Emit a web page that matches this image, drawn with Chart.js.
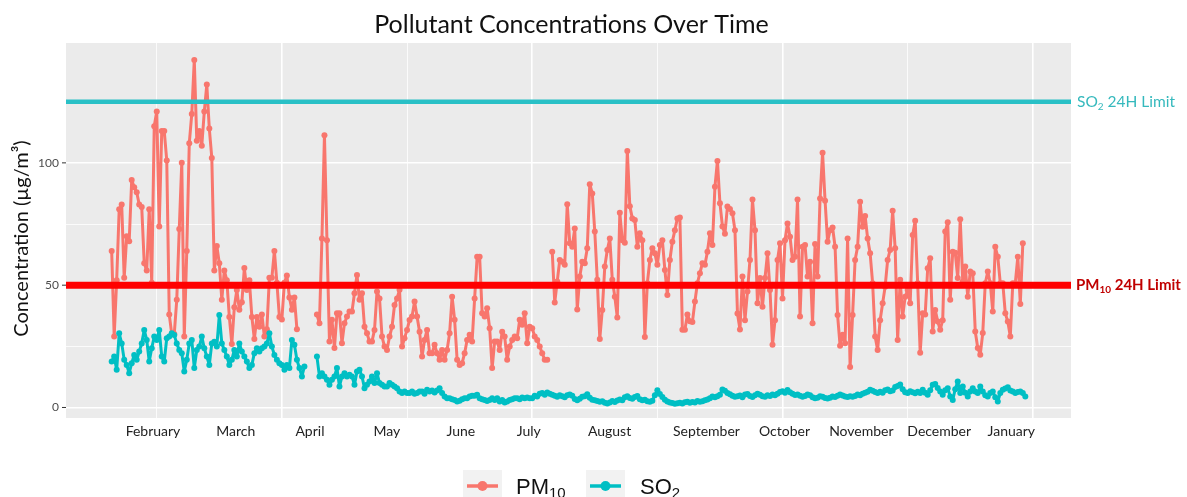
<!DOCTYPE html>
<html>
<head>
<meta charset="utf-8">
<script src="https://cdn.jsdelivr.net/npm/chart.js@4.4.1/dist/chart.umd.min.js"></script>
<style>
  html, body { margin: 0; padding: 0; background: #fff; }
  #wrap { width: 1187px; height: 497px; position: relative; }
</style>
</head>
<body>
<div id="wrap"><canvas id="chart" width="1187" height="497"></canvas></div>
<script>
// --- Data (day of year, first reading on day 32) ---
const firstDay = 32;

// PM10 daily values, null = missing day
const pm10Values = [
  64, 29, 52, 81, 83, 53, 70, 68, 93, 90,
  88, 83, 82, 59, 56, 81, 51, 115, 121, 74,
  113, 113, 101, 38, 30, 30, 44, 73, 100, 29,
  64, 108, 120, 142, 109, 113, 107, 121, 132, 114,
  102, 56, 66, 59, 44, 56, 52, 37, 26, 41,
  48, 40, 43, 57, 48, 52, 37, 28, 37, 33,
  38, 29, 32, 53, 53, 64, 51, 37, 36, 51,
  54, 45, 40, 45, 32,
  null, null, null, null, null, null, null,
  38, 34.4, 69.1, 111.3, 68.4, 27, 35.9, 24.3, 38.5, 38.5, 26.3,
  34.4, 37.2, 39.2, 39.2, 46.7, 54.2, 44, 46.7, 33, 30.3,
  27, 27, 31.7, 47.4, 44.6, 29, 24.9, 23.5, 29, 33,
  41.9, 44.6, 48.1, 24.9, 28.3, 31.7, 35.8, 37.2, 43.3, 37.2,
  31, 20.8, 27.6, 31.7, 22.2, 22.2, 25.6, 22.2, 19.5,
  23.5, 19.5, 23.5, 30.3, 45.3, 35.9, 19.5, 17.4, 18.1,
  22.2, 27.6, 29.7, 27, 44.6, 61.6, 61.6, 38.5, 37.2, 40.6,
  32.4, 16.1, 27, 27, 23.5, 31, 29, 19.5, 24.9,
  27.6, 29, 28.3, 35.9, 33.8, 38.5, 26.3, 33, 32.4,
  29, 27.6, 24.9, 22.2, 19.5, 19.5,
  null,
  63.7, 42.9, 51.5, 60.3, 59.6, 58.3, 83.1, 67.1, 65.7, 73.2,
  40.1, 53.5, 59.6, 59, 65.1, 91.3, 87.5, 71.9, 52.2, 28,
  39.9, 57.6, 64.4, 69.1, 52.2, 45.3, 36.8, 79.6, 68.4, 67.3,
  104.9, 82.3, 77.3, 76.6, 65.7, 71.2, 68.4, 28.8, 50.8, 60.3,
  65.1, 63, 58.3, 66.4, 68.4, 56.2, 46, 60.3, 67.8, 72.5,
  77.3, 77.7, 31.8, 31.8, 38, 35.3, 34.9, 43.3, 50.8, 54.9,
  59, 58.3, 63.7, 71.2, 66.4, 90.2, 100.8, 83.5, 74, 71,
  82.2, 81.1, 79.4, 72.5, 38.4, 31.9, 53.5, 35.7, 47.4, 60.3,
  85, 72.5, 42.6, 52.9, 41.2, 52.9, 63, 48, 25.6, 35.7,
  60.3, 67.1, 44.6,
  68.4, 75.2, 69.8, 60.3, 61.6, 85, 37.2, 65.7, 66.4,
  53.5, 59.6, 34.4, 66.8, 53.5, 85.4, 104.1, 84.5, 67.8, 72.5,
  73.6, 65.7, 37.8, 25.2, 29.7, 26.3, 69.1, 16.5, 37.8, 60.3,
  65.7, 84.1, 73.9, 78.3, 69.1, 63, 50.8, 29, 23.5,
  35.7, 42.6, 49.4, 60.3, 64.4, 80.4, 65.1, 27.6, 52.2, 37.2,
  45.3, 48, 42.6, 70.5, 76.3, 50.8, 22.4, 38.5, 38,
  56.9, 61, 31.1, 39.9, 35.2, 31.8, 35.7, 71.9, 75.7, 44,
  63.7, 63.3, 52.9, 76.9, 51.5, 57.6, 45.3, 55.6, 54.9, 31.1,
  24.3, 21.6, 30.4, 50.8, 55.6, 50.8, 39.2, 65.7, 61.6, 50.8,
  50.8, 38.5, 35.1, 29, 50.8, 50.8, 61.6, 42.3, 67.1
];

// SO2 daily values, null = missing day
const so2Values = [
  18.8, 20.8, 15.4, 30.3, 26.2, 19.5, 17.4, 14, 18.1, 21.5,
  19.5, 22.9, 26.2, 31.7, 27.6, 18.8, 24.2, 29, 27.6, 31.7,
  20.8, 18.8, 28.3, 29, 30.3, 29.6, 26.2, 23.5, 22.2, 14.7,
  19.5, 26.2, 27.6, 16.1, 23.5, 24.9, 29, 24.2, 20.8, 17.4,
  26.2, 26.9, 24.9, 37.8, 26.2, 23.5, 20.8, 17.4, 19.5, 23.5,
  20.8, 26.2, 22.9, 20.8, 18.8, 16.1, 17.4, 22.2, 24.2, 22.9,
  24.2, 24.9, 26.2, 30.3, 24.9, 21.5, 19.5, 18.1, 17.4, 15.4,
  17.4, 16.1, 27.6, 25.6, 19.5, 16.1, 12.7, 16.8,
  null, null, null, null,
  20.8, 12.7, 14, 12.7, 11.3, 9.3, 11.3, 12.7, 16.1, 8.6,
  12.7, 14, 12.7, 13.4, 12.7, 9.3, 14.7, 15.4, 12.7, 7.9,
  9.3, 10.6, 12.7, 10, 14, 10, 9.3, 8.6, 8.6, 10,
  9.3, 8.6, 7.9, 6.5, 5.9, 6.5, 5.9, 5.9, 6.5, 5.6,
  5.9, 6.5, 6.5, 5.6, 7.2, 6.5, 6.9, 6.1, 6.9, 7.9,
  5.9, 4.5, 3.8, 3.8, 3.4, 3.1, 2.4, 2.8, 3.4, 3.8,
  3.8, 4.5, 4.8, 4.8, 5.2, 3.8, 3.4, 3.1, 2.7, 3.1,
  3.8, 3.1, 3.8, 2.4, 3.1, 2, 2.4, 3.1, 3.4, 3.8,
  3.8, 3.4, 4.1, 3.8, 4.1, 3.8, 3.8, 4.8, 4.5, 5.6,
  5.9, 5.2, 6.1, 5.6, 5.2, 4.8, 4.4, 5.0,
  4.6, 4.2, 5.0, 5.3, 4.8, 3.5, 3.0, 3.6, 4.4, 4.6, 5.4,
  4.0, 3.2, 3.0, 2.6, 2.3, 2.5, 1.9, 1.6, 2.0,
  2.6, 2.2, 2.9, 3.3, 3.0, 4.2, 4.6, 3.9, 3.6,
  4.3, 4.7, 3.4, 3.0, 3.2, 2.5, 2.3, 2.8, 5.0,
  7.0, 5.5, 4.3, 3.2, 2.4, 2.0, 1.8, 1.5, 1.7,
  1.9, 1.6, 2.1, 2.3, 1.9, 2.2, 2.0, 2.6, 2.3,
  2.5, 3.0, 3.3, 3.8, 4.5, 4.2, 4.6, 5.2, 7.3,
  6.8, 5.9, 5.4, 4.8, 4.4, 4.6, 4.9, 4.2, 5.3,
  5.5, 4.7, 4.3, 5.0, 5.6, 5.2, 4.6, 4.4, 5.0,
  4.7, 5.3, 5.0, 5.6, 6.3, 6.6, 6.0, 7.1, 6.2,
  5.6, 5.1, 5.3, 4.8, 4.4, 4.7, 5.3, 5.0, 4.2,
  3.8, 4.0, 4.6, 4.4, 3.9, 3.7, 4.0, 4.5, 4.3,
  4.8, 5.3, 4.9, 4.5, 4.3, 4.6, 4.4, 4.7, 5.3,
  5.0, 5.6, 6.0, 6.4, 7.2, 6.8, 6.3, 5.9, 6.4,
  6.0, 7.0, 7.3, 6.6, 6.9, 8.4, 8.8, 9.4, 7.5,
  6.2, 5.9, 6.6, 6.2, 5.8, 6.4, 5.9, 7.2, 6.0,
  5.2, 7.0, 9.3, 9.6, 8.0, 6.5, 5.2, 7.0, 7.9, 4.5,
  3.1, 7.5, 10.6, 5.9, 8.6, 6.0, 4.5, 6.5, 7.9, 6.5,
  5.9, 8.6, 6.5, 5.0, 4.5, 5.9, 6.5, 4.2, 2.4, 5.9,
  7.2, 7.8, 8.3, 6.9, 6.5, 5.9, 6.3, 6.5, 5.9, 4.5
];

const so2Limit = 125;
const pm10Limit = 50;

const monthLabels = ['February', 'March', 'April', 'May', 'June', 'July',
  'August', 'September', 'October', 'November', 'December', 'January'];
const monthLabelDays = [48.5, 81.6, 111.2, 141.9, 171.5, 198.6,
  230.9, 269.6, 300.8, 331.5, 362.6, 391.4];

const yTickLabels = [0, 50, 100];
const yGridValues = [0, 25, 50, 75, 100, 125];
const xGridValues = [50, 100, 150, 200, 250, 300, 350, 400];
const xRange = [13.75, 415.25];
const yRange = [-4.3, 149];

// --- Colours ---
const PM10_COLOR = '#F8766D';
const SO2_COLOR = '#00BFC4';
const PM10_LIMIT_COLOR = '#FF0000';
const SO2_LIMIT_COLOR = '#29C0C6';
const TEXT_FONT = 'Lato, "Open Sans", sans-serif';

function toPoints(values) {
  return values.map((v, i) => ({ x: firstDay + i, y: v }));
}

function limitPoints(level) {
  return [{ x: xRange[0], y: level }, { x: xRange[1], y: level }];
}

// text with a subscript part: parts = [[text, size, dy, family], ...]
function drawParts(c, parts, x, y, color, weight) {
  let cx = x;
  c.fillStyle = color;
  c.textAlign = 'left';
  c.textBaseline = 'alphabetic';
  parts.forEach(([text, size, dy, family]) => {
    c.font = `${weight || 'normal'} ${size}px ${family || TEXT_FONT}`;
    c.fillText(text, cx, y + dy);
    cx += c.measureText(text).width;
  });
}

/* ---------------------- Text and decorations ---------------------- */
const decorations = {
  id: 'decorations',
  beforeDraw(chart) {
    const { ctx: c, chartArea: a } = chart;
    c.save();
    c.fillStyle = '#EBEBEB';
    c.fillRect(a.left, a.top, a.right - a.left, a.bottom - a.top);
    c.restore();
  },
  afterDraw(chart) {
    const { ctx: c, chartArea: a, scales } = chart;
    const xs = scales.x, ys = scales.y;
    c.save();

    // title
    c.fillStyle = '#111';
    c.font = `25px ${TEXT_FONT}`;
    c.textAlign = 'center';
    c.textBaseline = 'middle';
    c.fillText('Pollutant Concentrations Over Time', (a.left + a.right) / 2 + 3, 25);

    // y ticks
    c.font = `12px ${TEXT_FONT}`;
    c.fillStyle = '#4D4D4D';
    c.textAlign = 'right';
    c.strokeStyle = '#333';
    c.lineWidth = 1;
    yTickLabels.forEach(v => {
      const py = ys.getPixelForValue(v);
      c.fillText(String(v), a.left - 7, py);
      c.beginPath();
      c.moveTo(a.left - 4, py);
      c.lineTo(a.left, py);
      c.stroke();
    });

    // y axis title
    c.save();
    c.translate(22, (a.top + a.bottom) / 2 + 8);
    c.rotate(-Math.PI / 2);
    c.fillStyle = '#111';
    c.font = `20px ${TEXT_FONT}`;
    c.textAlign = 'center';
    c.fillText('Concentration (µg/m³)', 0, 0);
    c.restore();

    // month labels
    c.font = `14px ${TEXT_FONT}`;
    c.fillStyle = '#222';
    c.textAlign = 'center';
    monthLabels.forEach((m, i) => {
      c.fillText(m, xs.getPixelForValue(monthLabelDays[i]), 431);
    });

    // limit labels
    const so2Y = ys.getPixelForValue(so2Limit) + 5;
    drawParts(c, [['SO', 15.5, 0], ['2', 10, 3], [' 24H Limit', 15.5, 0]], a.right + 6, so2Y, '#35B9BD');
    const pmY = ys.getPixelForValue(pm10Limit) + 5;
    drawParts(c, [['PM', 15, 0], ['10', 10, 3], [' 24H Limit', 15, 0]], a.right + 5, pmY, '#C00000', 'bold');

    // legend
    const keys = [
      { x: 463, color: PM10_COLOR, label: 'PM', sub: '10', tx: 516 },
      { x: 586, color: SO2_COLOR, label: 'SO', sub: '2', tx: 640 }
    ];
    keys.forEach(k => {
      c.fillStyle = '#F2F2F2';
      c.fillRect(k.x, 470, 39, 27);
      c.strokeStyle = k.color;
      c.lineWidth = 3.5;
      c.beginPath();
      c.moveTo(k.x + 4, 486);
      c.lineTo(k.x + 35, 486);
      c.stroke();
      c.fillStyle = k.color;
      c.beginPath();
      c.arc(k.x + 19.5, 486, 5, 0, Math.PI * 2);
      c.fill();
      drawParts(c, [[k.label, 22, 0, '"Liberation Sans", Arial'], [k.sub, 15, 4, '"Liberation Sans", Arial']],
        k.tx, 494, '#111');
    });

    c.restore();
  }
};

const gridColor = '#FFFFFF';

new Chart(document.getElementById('chart'), {
  type: 'line',
  data: {
    datasets: [
      { label: 'SO2 24H Limit', data: limitPoints(so2Limit), borderColor: SO2_LIMIT_COLOR,
        borderWidth: 4.5, pointRadius: 0, order: 0 },
      { label: 'PM10 24H Limit', data: limitPoints(pm10Limit), borderColor: PM10_LIMIT_COLOR,
        borderWidth: 7, pointRadius: 0, order: 0 },
      { label: 'SO2', data: toPoints(so2Values), borderColor: SO2_COLOR, backgroundColor: SO2_COLOR,
        borderWidth: 3, borderJoinStyle: 'round', borderCapStyle: 'round',
        pointRadius: 3, pointBorderWidth: 0, spanGaps: false, order: 1 },
      { label: 'PM10', data: toPoints(pm10Values), borderColor: PM10_COLOR, backgroundColor: PM10_COLOR,
        borderWidth: 3, borderJoinStyle: 'round', borderCapStyle: 'round',
        pointRadius: 3, pointBorderWidth: 0, spanGaps: false, order: 2 }
    ]
  },
  options: {
    responsive: false,
    animation: false,
    layout: { padding: { left: 66, right: 116, top: 43, bottom: 79 } },
    plugins: { legend: { display: false }, tooltip: { enabled: false }, title: { display: false } },
    scales: {
      x: {
        type: 'linear', min: xRange[0], max: xRange[1],
        afterBuildTicks: s => { s.ticks = xGridValues.map(v => ({ value: v })); },
        ticks: { display: false },
        border: { display: false },
        grid: {
          drawTicks: false,
          color: gridColor,
          lineWidth: ctx => (ctx.tick && ctx.tick.value % 100 === 0) ? 1.6 : 0.8
        }
      },
      y: {
        type: 'linear', min: yRange[0], max: yRange[1],
        afterBuildTicks: s => { s.ticks = yGridValues.map(v => ({ value: v })); },
        ticks: { display: false },
        border: { display: false },
        grid: {
          drawTicks: false,
          color: gridColor,
          lineWidth: ctx => (ctx.tick && ctx.tick.value % 50 === 0) ? 1.6 : 0.8
        }
      }
    }
  },
  plugins: [decorations]
});
</script>
</body>
</html>
